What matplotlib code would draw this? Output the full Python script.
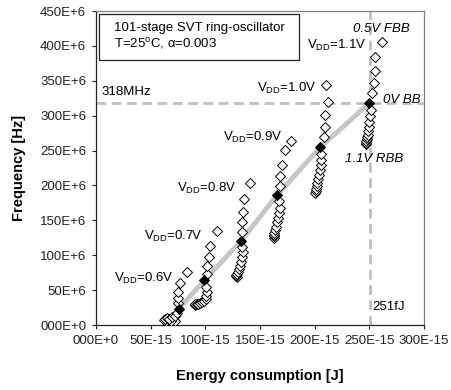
import matplotlib
matplotlib.use("Agg")
import matplotlib.pyplot as plt
from matplotlib.patches import Rectangle

plt.rcParams['font.family'] = ['Liberation Sans', 'DejaVu Sans']
plt.rcParams['mathtext.default'] = 'regular'

# Body bias sweep from -1.1 V (RBB) to +0.5 V (FBB), step 0.1 V; index 11 = 0 V BB
body_bias = [-1.1, -1.0, -0.9, -0.8, -0.7, -0.6, -0.5, -0.4, -0.3, -0.2, -0.1,
             0.0, 0.1, 0.2, 0.3, 0.4, 0.5]
vdd_labels = ["0.6V", "0.7V", "0.8V", "0.9V", "1.0V", "1.1V"]

# Energy [fJ] and frequency [MHz] per VDD, ordered by body_bias
energy_06 = [72, 69, 66, 64, 62, 63.5, 65, 67, 69.5, 72, 74.5, 76, 75.3, 74.7, 75.3, 77, 83]
freq_06 = [5.5, 6, 8, 5.5, 7, 9, 10, 8, 11, 13.5, 17.5, 23.5, 31, 38.5, 48, 59.7, 75.5]
energy_07 = [90.5, 91, 92, 93.5, 95, 97, 99, 101, 100.5, 101.2, 100.3, 99, 101.2, 101.5, 103, 104.5, 110.5]
freq_07 = [29, 29.5, 30, 30.5, 31.5, 33, 35, 37.5, 42, 48, 55, 64, 73, 85, 97.5, 113, 134]
energy_08 = [128.7, 128.5, 128.5, 129, 129.5, 130.5, 131.5, 132.5, 133.5, 134, 133.5, 132.5, 133.5, 133.5, 134.2, 135.4, 141]
freq_08 = [69, 70, 71, 73, 76, 80, 85, 91, 98, 105, 112, 120, 133, 147, 161.5, 180.6, 204]
energy_09 = [162.7, 162.5, 162.5, 163, 163.5, 164.5, 165.5, 166.5, 167.5, 168, 167, 165.5, 168.5, 168.3, 170.4, 172.9, 178.4]
freq_09 = [125, 127, 129, 132, 136, 141, 147, 153, 160, 168, 177, 186, 199, 213, 229, 251, 264]
energy_10 = [200.5, 201, 201.5, 202, 202.5, 203.5, 204, 205, 205.5, 206, 205.5, 205, 208.5, 209.5, 209.5, 212.5, 210.4]
freq_10 = [189, 192, 195, 199, 204, 209, 215, 222, 229, 237, 245, 254.5, 269, 284, 300.5, 319, 344]
energy_11 = [246.6, 246.8, 247, 247.5, 248, 248.5, 249, 249.5, 250, 251, 251.5, 250, 252.7, 254, 254.9, 255.2, 261.3]
freq_11 = [259, 261, 263, 266, 269, 273, 278, 284, 291, 299, 308, 318, 332, 346.4, 364.5, 383.6, 406]

energies = [energy_06, energy_07, energy_08, energy_09, energy_10, energy_11]
freqs = [freq_06, freq_07, freq_08, freq_09, freq_10, freq_11]

opt_freq = 318   # MHz
opt_energy = 251  # fJ

x_ticks = [0, 50, 100, 150, 200, 250, 300]
x_ticklabels = ["000E+0", "50E-15", "100E-15", "150E-15", "200E-15", "250E-15", "300E-15"]
y_ticks = [0, 50, 100, 150, 200, 250, 300, 350, 400, 450]
y_ticklabels = ["000E+0", "50E+6", "100E+6", "150E+6", "200E+6", "250E+6",
                "300E+6", "350E+6", "400E+6", "450E+6"]

fig = plt.figure(figsize=(4.51, 3.90), dpi=100)
ax = fig.add_axes([96/451, 1-325/390, 328/451, 314/390])

zero_idx = body_bias.index(0.0)

# dashed reference lines
ax.axhline(opt_freq, color='#c0c0c0', lw=2.0, ls=(0, (3.5, 2)), zorder=1)
ax.axvline(opt_energy, color='#c0c0c0', lw=2.0, ls=(0, (3.5, 2)), zorder=1)

# gray line through 0V BB points
ax.plot([e[zero_idx] for e in energies], [f[zero_idx] for f in freqs],
        color='#c6c6c6', lw=3.5, solid_capstyle='butt', zorder=2)

for e, f in zip(energies, freqs):
    ex = [v for i, v in enumerate(e) if i != zero_idx]
    fx = [v for i, v in enumerate(f) if i != zero_idx]
    ax.plot(ex, fx, ls='none', marker='D', ms=5.0, mfc='white', mec='black', mew=0.7, zorder=3)
    ax.plot([e[zero_idx]], [f[zero_idx]], ls='none', marker='D', ms=5.4, mfc='black',
            mec='black', mew=0.7, zorder=4)

ax.set_xlim(0, 300)
ax.set_ylim(0, 450)
ax.set_xticks(x_ticks)
ax.set_xticklabels(x_ticklabels)
ax.set_yticks(y_ticks)
ax.set_yticklabels(y_ticklabels)
ax.tick_params(direction='out', length=3, width=0.8, labelsize=9.5, pad=4, colors='#222222')
for s in ['left', 'bottom']:
    ax.spines[s].set_color('#222222')
    ax.spines[s].set_linewidth(0.9)
for s in ['top', 'right']:
    ax.spines[s].set_color('#808080')
    ax.spines[s].set_linewidth(0.9)

ax.set_xlabel("Energy consumption [J]", fontsize=10.5, fontweight='bold', labelpad=16)
ax.set_ylabel("Frequency [Hz]", fontsize=10.5, fontweight='bold', labelpad=10)

# info box
ax.add_patch(Rectangle((0.009, 0.845), 0.611, 0.145, transform=ax.transAxes,
                       fill=False, edgecolor='#222222', lw=0.9, zorder=5))
ax.text(0.055, 0.945, "101-stage SVT ring-oscillator", transform=ax.transAxes,
        fontsize=9.5, va='center', ha='left')
ax.text(0.055, 0.895, "T=25$^{o}$C, \u03b1=0.003", transform=ax.transAxes,
        fontsize=9.5, va='center', ha='left')

ts = 9.5
ax.text(4.6, 334.5, "318MHz", fontsize=ts, va='center', ha='left')
ax.text(252.5, 26, "251fJ", fontsize=ts, va='center', ha='left')
ax.text(287, 424, "0.5V FBB", fontsize=ts, va='center', ha='right', style='italic')
ax.text(262.5, 322.4, "0V BB", fontsize=ts, va='center', ha='left', style='italic')
ax.text(227.7, 238, "1.1V RBB", fontsize=ts, va='center', ha='left', style='italic')

vdd_pos = [(70.7, 67.4), (96.7, 126.5), (129, 196), (171, 269.4), (202, 339.6), (247.9, 401)]
for lab, (x, y) in zip(vdd_labels, vdd_pos):
    ax.text(x, y, "V$_{DD}$=" + lab, fontsize=ts, va='center', ha='right')

fig.savefig("out.png", dpi=100)
